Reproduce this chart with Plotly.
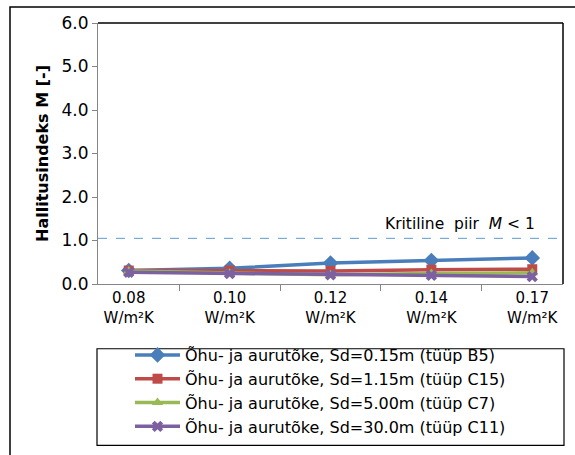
import plotly.graph_objects as go

# Categories: U-values of the wall
u_values = ["0.08<br>W/m²K", "0.10<br>W/m²K", "0.12<br>W/m²K", "0.14<br>W/m²K", "0.17<br>W/m²K"]

# Mould index M for each barrier type
m_b5 = [0.31, 0.36, 0.48, 0.54, 0.60]
m_c15 = [0.31, 0.31, 0.30, 0.33, 0.34]
m_c7 = [0.30, 0.25, 0.21, 0.24, 0.26]
m_c11 = [0.27, 0.24, 0.21, 0.20, 0.17]

series_names = [
    "Õhu- ja aurutõke, Sd=0.15m (tüüp B5)",
    "Õhu- ja aurutõke, Sd=1.15m (tüüp C15)",
    "Õhu- ja aurutõke, Sd=5.00m (tüüp C7)",
    "Õhu- ja aurutõke, Sd=30.0m (tüüp C11)",
]

critical_level = 1.05
y_ticks = [0, 1, 2, 3, 4, 5, 6]

colors = ["#4A7EBB", "#BE4B48", "#98B954", "#7D60A0"]
symbols = ["diamond", "square", "triangle-up", "x"]
msizes = [12, 10, 10, 10]

fig = go.Figure()
for vals, name, col, sym, ms in zip([m_b5, m_c15, m_c7, m_c11], series_names, colors, symbols, msizes):
    fig.add_trace(go.Scatter(
        x=u_values, y=vals, name=name, mode="lines+markers",
        line=dict(color=col, width=3.5),
        marker=dict(symbol=sym, size=ms, color=col),
    ))

# Critical threshold line and its label
fig.add_shape(type="line", xref="x domain", yref="y", x0=0, x1=1,
              y0=critical_level, y1=critical_level,
              line=dict(color="#5B9BD5", width=1, dash="dash"))
fig.add_annotation(xref="paper", yref="y", x=0.945, y=critical_level,
                   xanchor="right", yanchor="bottom", yshift=3,
                   text="Kritiline  piir  <i>M</i> < 1", showarrow=False,
                   font=dict(family="DejaVu Sans", size=15.5, color="#000000"))

# Plot area top and right border
fig.add_shape(type="line", xref="paper", yref="paper", x0=0, x1=1, y0=1, y1=1,
              line=dict(color="#000000", width=1.5))
fig.add_shape(type="line", xref="paper", yref="paper", x0=1, x1=1, y0=0, y1=1,
              line=dict(color="#000000", width=1.5))

# Legend box
fig.add_shape(type="rect", xref="paper", yref="paper",
              x0=(97 - 98) / 465, x1=(564 - 98) / 465,
              y0=(285 - 447) / 262, y1=(285 - 350) / 262,
              line=dict(color="#000000", width=1.2), fillcolor="rgba(0,0,0,0)")

# Outer chart frame
fig.add_shape(type="rect", xref="paper", yref="paper",
              x0=(10 - 98) / 465, x1=(590 - 98) / 465,
              y0=(285 - 470) / 262, y1=(285 - 7) / 262,
              line=dict(color="#000000", width=1.5), fillcolor="rgba(0,0,0,0)")

fig.update_layout(
    width=575, height=455,
    margin=dict(l=98, r=12, t=23, b=170),
    paper_bgcolor="white", plot_bgcolor="white",
    font=dict(family="DejaVu Sans", size=15, color="#000000"),
    showlegend=True,
    legend=dict(x=(130 - 98) / 465, y=(285 - 444) / 262, xanchor="left", yanchor="bottom",
                bgcolor="rgba(0,0,0,0)", borderwidth=0,
                font=dict(family="DejaVu Sans", size=16),
                itemwidth=45, tracegroupgap=0),
    xaxis=dict(
        showline=True, linecolor="#868686", linewidth=1,
        ticks="outside", ticklen=6, tickcolor="#868686",
        tickson="boundaries", showgrid=False,
        tickfont=dict(family="DejaVu Sans", size=15),
    ),
    yaxis=dict(
        range=[0, 6], tickvals=y_ticks, tickformat=".1f",
        showline=True, linecolor="#868686", linewidth=1,
        ticks="outside", ticklen=5, tickcolor="#868686",
        showgrid=False, zeroline=False,
        tickfont=dict(family="DejaVu Sans", size=17),
        title=dict(text="<b>Hallitusindeks M [-]</b>", standoff=8,
                   font=dict(family="DejaVu Sans", size=16)),
    ),
)

fig.write_html("out.html")
